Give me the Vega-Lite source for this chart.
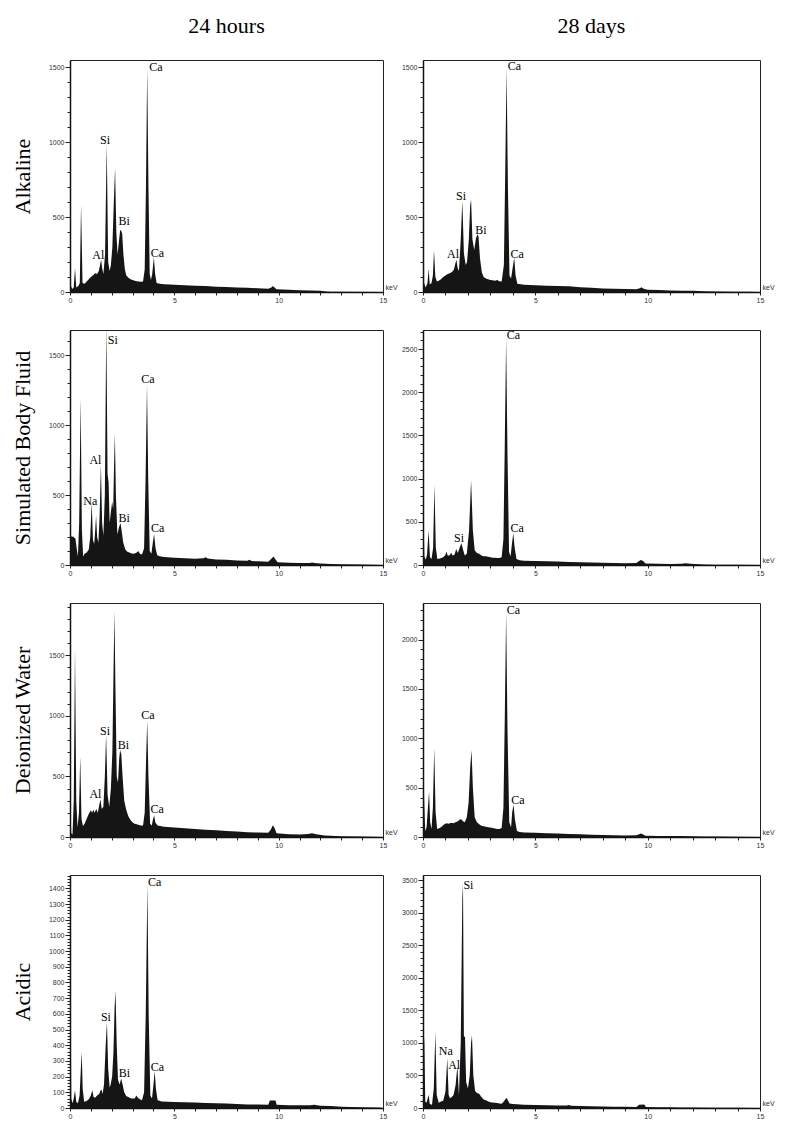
{
"$schema": "https://vega.github.io/schema/vega-lite/v6.json",
"padding": {"left": 10, "top": 14, "right": 5, "bottom": 5},
"background": "white",
"columns": 2,
"spacing": {"row": 38, "column": 40},
"bounds": "flush",
"align": "each",
"datasets": {
"a24": [{"e":0,"c":0},{"e":0.02,"c":930},{"e":0.05,"c":40},{"e":0.1,"c":20},{"e":0.18,"c":30},{"e":0.24,"c":160},{"e":0.3,"c":30},{"e":0.4,"c":40},{"e":0.47,"c":60},{"e":0.53,"c":585},{"e":0.6,"c":60},{"e":0.7,"c":55},{"e":0.8,"c":70},{"e":0.9,"c":85},{"e":1.0,"c":100},{"e":1.1,"c":110},{"e":1.2,"c":125},{"e":1.3,"c":120},{"e":1.38,"c":140},{"e":1.44,"c":180},{"e":1.49,"c":215},{"e":1.54,"c":160},{"e":1.6,"c":120},{"e":1.68,"c":250},{"e":1.76,"c":990},{"e":1.83,"c":200},{"e":1.9,"c":140},{"e":1.96,"c":180},{"e":2.03,"c":300},{"e":2.1,"c":600},{"e":2.16,"c":828},{"e":2.22,"c":400},{"e":2.28,"c":250},{"e":2.34,"c":330},{"e":2.4,"c":410},{"e":2.44,"c":415},{"e":2.5,"c":390},{"e":2.56,"c":250},{"e":2.63,"c":150},{"e":2.7,"c":110},{"e":2.8,"c":95},{"e":2.9,"c":85},{"e":3.0,"c":80},{"e":3.1,"c":75},{"e":3.2,"c":72},{"e":3.3,"c":70},{"e":3.4,"c":68},{"e":3.5,"c":70},{"e":3.58,"c":150},{"e":3.64,"c":700},{"e":3.7,"c":1495},{"e":3.76,"c":700},{"e":3.82,"c":120},{"e":3.88,"c":80},{"e":3.94,"c":120},{"e":4.02,"c":232},{"e":4.08,"c":120},{"e":4.15,"c":60},{"e":4.3,"c":55},{"e":4.5,"c":52},{"e":4.8,"c":50},{"e":5.0,"c":48},{"e":5.5,"c":45},{"e":6.0,"c":42},{"e":6.5,"c":40},{"e":7.0,"c":35},{"e":7.5,"c":33},{"e":8.0,"c":30},{"e":8.5,"c":28},{"e":9.0,"c":25},{"e":9.5,"c":22},{"e":9.65,"c":30},{"e":9.72,"c":40},{"e":9.8,"c":30},{"e":9.9,"c":18},{"e":10.5,"c":15},{"e":11.0,"c":12},{"e":11.5,"c":10},{"e":12.0,"c":8},{"e":12.3,"c":3},{"e":12.5,"c":2},{"e":13.0,"c":1},{"e":15,"c":0}],
"a28": [{"e":0,"c":0},{"e":0.02,"c":924},{"e":0.05,"c":60},{"e":0.12,"c":30},{"e":0.2,"c":60},{"e":0.25,"c":155},{"e":0.3,"c":50},{"e":0.38,"c":60},{"e":0.44,"c":110},{"e":0.49,"c":278},{"e":0.55,"c":100},{"e":0.62,"c":70},{"e":0.7,"c":75},{"e":0.8,"c":85},{"e":0.9,"c":100},{"e":1.0,"c":110},{"e":1.1,"c":120},{"e":1.2,"c":125},{"e":1.3,"c":135},{"e":1.38,"c":150},{"e":1.44,"c":190},{"e":1.49,"c":213},{"e":1.54,"c":160},{"e":1.6,"c":140},{"e":1.68,"c":350},{"e":1.75,"c":610},{"e":1.82,"c":260},{"e":1.9,"c":180},{"e":1.96,"c":200},{"e":2.04,"c":350},{"e":2.1,"c":580},{"e":2.14,"c":617},{"e":2.2,"c":350},{"e":2.28,"c":280},{"e":2.36,"c":360},{"e":2.42,"c":386},{"e":2.47,"c":370},{"e":2.54,"c":220},{"e":2.62,"c":130},{"e":2.7,"c":100},{"e":2.8,"c":90},{"e":2.9,"c":85},{"e":3.0,"c":80},{"e":3.1,"c":78},{"e":3.2,"c":75},{"e":3.3,"c":80},{"e":3.4,"c":72},{"e":3.5,"c":70},{"e":3.6,"c":180},{"e":3.66,"c":800},{"e":3.72,"c":1496},{"e":3.78,"c":700},{"e":3.85,"c":110},{"e":3.92,"c":90},{"e":3.98,"c":150},{"e":4.06,"c":229},{"e":4.12,"c":110},{"e":4.2,"c":55},{"e":4.5,"c":48},{"e":5.0,"c":45},{"e":5.5,"c":42},{"e":6.0,"c":40},{"e":6.5,"c":38},{"e":7.0,"c":32},{"e":7.5,"c":28},{"e":8.0,"c":24},{"e":8.5,"c":22},{"e":9.0,"c":20},{"e":9.5,"c":18},{"e":9.65,"c":25},{"e":9.72,"c":32},{"e":9.82,"c":22},{"e":10,"c":15},{"e":10.5,"c":13},{"e":11,"c":10},{"e":11.5,"c":9},{"e":12,"c":8},{"e":12.5,"c":5},{"e":13,"c":3},{"e":14,"c":2},{"e":14.5,"c":2},{"e":15,"c":0}],
"s24": [{"e":0,"c":0},{"e":0.02,"c":1066},{"e":0.05,"c":210},{"e":0.1,"c":200},{"e":0.15,"c":205},{"e":0.2,"c":195},{"e":0.26,"c":190},{"e":0.32,"c":120},{"e":0.38,"c":60},{"e":0.44,"c":300},{"e":0.51,"c":1198},{"e":0.57,"c":250},{"e":0.63,"c":60},{"e":0.7,"c":80},{"e":0.8,"c":90},{"e":0.9,"c":110},{"e":0.97,"c":200},{"e":1.04,"c":448},{"e":1.1,"c":180},{"e":1.16,"c":150},{"e":1.2,"c":230},{"e":1.25,"c":352},{"e":1.3,"c":200},{"e":1.36,"c":160},{"e":1.42,"c":350},{"e":1.48,"c":721},{"e":1.54,"c":300},{"e":1.6,"c":210},{"e":1.67,"c":500},{"e":1.74,"c":1720},{"e":1.8,"c":650},{"e":1.85,"c":590},{"e":1.9,"c":300},{"e":1.96,"c":380},{"e":2.02,"c":452},{"e":2.07,"c":400},{"e":2.11,"c":700},{"e":2.15,"c":936},{"e":2.2,"c":500},{"e":2.27,"c":220},{"e":2.35,"c":270},{"e":2.42,"c":300},{"e":2.48,"c":240},{"e":2.55,"c":160},{"e":2.65,"c":110},{"e":2.75,"c":95},{"e":2.9,"c":85},{"e":3.0,"c":80},{"e":3.1,"c":82},{"e":3.2,"c":90},{"e":3.28,"c":100},{"e":3.35,"c":80},{"e":3.45,"c":75},{"e":3.55,"c":120},{"e":3.62,"c":600},{"e":3.69,"c":1288},{"e":3.75,"c":600},{"e":3.82,"c":100},{"e":3.9,"c":80},{"e":3.96,"c":150},{"e":4.03,"c":221},{"e":4.1,"c":120},{"e":4.18,"c":70},{"e":4.3,"c":62},{"e":4.5,"c":58},{"e":5.0,"c":52},{"e":5.5,"c":48},{"e":6.0,"c":45},{"e":6.4,"c":48},{"e":6.5,"c":56},{"e":6.6,"c":46},{"e":7.0,"c":40},{"e":7.5,"c":37},{"e":8.0,"c":33},{"e":8.5,"c":30},{"e":8.6,"c":38},{"e":8.7,"c":28},{"e":9.0,"c":26},{"e":9.5,"c":24},{"e":9.65,"c":45},{"e":9.75,"c":60},{"e":9.85,"c":40},{"e":9.95,"c":20},{"e":10.5,"c":16},{"e":11.0,"c":14},{"e":11.5,"c":15},{"e":11.6,"c":18},{"e":11.7,"c":14},{"e":12.0,"c":10},{"e":12.5,"c":7},{"e":13,"c":5},{"e":14,"c":4},{"e":15,"c":0}],
"s28": [{"e":0,"c":0},{"e":0.02,"c":620},{"e":0.06,"c":100},{"e":0.12,"c":60},{"e":0.18,"c":120},{"e":0.25,"c":399},{"e":0.31,"c":90},{"e":0.38,"c":70},{"e":0.45,"c":200},{"e":0.51,"c":930},{"e":0.57,"c":200},{"e":0.64,"c":70},{"e":0.75,"c":75},{"e":0.85,"c":85},{"e":0.95,"c":100},{"e":1.0,"c":120},{"e":1.04,"c":155},{"e":1.1,"c":110},{"e":1.18,"c":110},{"e":1.25,"c":143},{"e":1.32,"c":110},{"e":1.4,"c":120},{"e":1.48,"c":186},{"e":1.55,"c":140},{"e":1.63,"c":200},{"e":1.71,"c":251},{"e":1.78,"c":180},{"e":1.86,"c":110},{"e":1.95,"c":130},{"e":2.05,"c":400},{"e":2.14,"c":980},{"e":2.22,"c":400},{"e":2.3,"c":170},{"e":2.4,"c":140},{"e":2.5,"c":130},{"e":2.6,"c":110},{"e":2.7,"c":100},{"e":2.8,"c":100},{"e":2.9,"c":95},{"e":3.0,"c":90},{"e":3.1,"c":85},{"e":3.2,"c":85},{"e":3.3,"c":80},{"e":3.4,"c":80},{"e":3.5,"c":90},{"e":3.58,"c":300},{"e":3.64,"c":1400},{"e":3.7,"c":2623},{"e":3.76,"c":1300},{"e":3.83,"c":150},{"e":3.9,"c":100},{"e":3.96,"c":250},{"e":4.02,"c":368},{"e":4.08,"c":200},{"e":4.16,"c":70},{"e":4.3,"c":55},{"e":4.5,"c":50},{"e":5.0,"c":45},{"e":5.5,"c":42},{"e":6.0,"c":40},{"e":6.5,"c":36},{"e":7.0,"c":32},{"e":7.5,"c":28},{"e":8.0,"c":26},{"e":8.5,"c":23},{"e":9.0,"c":20},{"e":9.5,"c":22},{"e":9.62,"c":45},{"e":9.7,"c":58},{"e":9.8,"c":45},{"e":9.9,"c":18},{"e":10.5,"c":14},{"e":11.0,"c":12},{"e":11.5,"c":14},{"e":11.7,"c":20},{"e":11.9,"c":14},{"e":12.3,"c":8},{"e":12.5,"c":5},{"e":13,"c":4},{"e":14,"c":3},{"e":15,"c":0}],
"d24": [{"e":0,"c":0},{"e":0.02,"c":254},{"e":0.06,"c":30},{"e":0.12,"c":20},{"e":0.18,"c":300},{"e":0.24,"c":1561},{"e":0.3,"c":300},{"e":0.36,"c":80},{"e":0.43,"c":200},{"e":0.49,"c":663},{"e":0.55,"c":150},{"e":0.62,"c":90},{"e":0.7,"c":110},{"e":0.8,"c":150},{"e":0.9,"c":190},{"e":1.0,"c":221},{"e":1.06,"c":200},{"e":1.12,"c":225},{"e":1.18,"c":200},{"e":1.26,"c":230},{"e":1.33,"c":200},{"e":1.4,"c":260},{"e":1.46,"c":312},{"e":1.52,"c":230},{"e":1.6,"c":250},{"e":1.67,"c":500},{"e":1.73,"c":843},{"e":1.8,"c":350},{"e":1.88,"c":250},{"e":1.96,"c":400},{"e":2.03,"c":700},{"e":2.08,"c":1300},{"e":2.13,"c":1864},{"e":2.18,"c":1200},{"e":2.24,"c":500},{"e":2.3,"c":450},{"e":2.36,"c":650},{"e":2.4,"c":718},{"e":2.46,"c":680},{"e":2.52,"c":500},{"e":2.6,"c":300},{"e":2.7,"c":220},{"e":2.8,"c":170},{"e":2.9,"c":140},{"e":3.0,"c":120},{"e":3.1,"c":110},{"e":3.2,"c":105},{"e":3.3,"c":100},{"e":3.4,"c":95},{"e":3.5,"c":95},{"e":3.58,"c":200},{"e":3.64,"c":600},{"e":3.7,"c":958},{"e":3.76,"c":500},{"e":3.84,"c":110},{"e":3.92,"c":95},{"e":3.97,"c":140},{"e":4.03,"c":180},{"e":4.09,"c":120},{"e":4.2,"c":95},{"e":4.5,"c":85},{"e":5.0,"c":78},{"e":5.5,"c":72},{"e":6.0,"c":65},{"e":6.5,"c":60},{"e":7.0,"c":55},{"e":7.5,"c":50},{"e":8.0,"c":45},{"e":8.5,"c":40},{"e":9.0,"c":37},{"e":9.5,"c":35},{"e":9.62,"c":60},{"e":9.72,"c":97},{"e":9.8,"c":75},{"e":9.9,"c":30},{"e":10.5,"c":22},{"e":11.0,"c":20},{"e":11.4,"c":25},{"e":11.6,"c":30},{"e":11.8,"c":22},{"e":12.2,"c":12},{"e":12.5,"c":10},{"e":13,"c":7},{"e":14,"c":4},{"e":15,"c":0}],
"d28": [{"e":0,"c":0},{"e":0.02,"c":655},{"e":0.06,"c":300},{"e":0.1,"c":60},{"e":0.16,"c":100},{"e":0.22,"c":300},{"e":0.27,"c":460},{"e":0.32,"c":150},{"e":0.38,"c":80},{"e":0.44,"c":300},{"e":0.5,"c":900},{"e":0.56,"c":250},{"e":0.63,"c":80},{"e":0.75,"c":90},{"e":0.85,"c":110},{"e":0.95,"c":130},{"e":1.05,"c":140},{"e":1.15,"c":135},{"e":1.25,"c":145},{"e":1.35,"c":140},{"e":1.45,"c":150},{"e":1.55,"c":160},{"e":1.62,"c":175},{"e":1.7,"c":180},{"e":1.78,"c":160},{"e":1.86,"c":150},{"e":1.95,"c":200},{"e":2.03,"c":350},{"e":2.1,"c":700},{"e":2.16,"c":880},{"e":2.22,"c":500},{"e":2.3,"c":200},{"e":2.4,"c":150},{"e":2.5,"c":130},{"e":2.6,"c":115},{"e":2.7,"c":110},{"e":2.8,"c":105},{"e":2.9,"c":100},{"e":3.0,"c":95},{"e":3.1,"c":90},{"e":3.2,"c":85},{"e":3.3,"c":80},{"e":3.4,"c":80},{"e":3.5,"c":90},{"e":3.58,"c":300},{"e":3.64,"c":1200},{"e":3.7,"c":2274},{"e":3.76,"c":1100},{"e":3.84,"c":150},{"e":3.92,"c":100},{"e":3.97,"c":250},{"e":4.03,"c":326},{"e":4.09,"c":180},{"e":4.18,"c":60},{"e":4.3,"c":50},{"e":4.5,"c":45},{"e":5.0,"c":42},{"e":5.5,"c":38},{"e":6.0,"c":35},{"e":6.5,"c":30},{"e":7.0,"c":27},{"e":7.5,"c":24},{"e":8.0,"c":20},{"e":8.5,"c":18},{"e":9.0,"c":16},{"e":9.5,"c":17},{"e":9.62,"c":28},{"e":9.7,"c":35},{"e":9.8,"c":25},{"e":9.9,"c":12},{"e":10.5,"c":10},{"e":11,"c":10},{"e":11.5,"c":10},{"e":12,"c":8},{"e":12.5,"c":6},{"e":13,"c":4},{"e":14,"c":3},{"e":15,"c":0}],
"c24": [{"e":0,"c":0},{"e":0.02,"c":1000},{"e":0.06,"c":60},{"e":0.12,"c":30},{"e":0.18,"c":60},{"e":0.24,"c":113},{"e":0.3,"c":40},{"e":0.38,"c":30},{"e":0.46,"c":80},{"e":0.52,"c":250},{"e":0.56,"c":359},{"e":0.61,"c":120},{"e":0.68,"c":40},{"e":0.8,"c":45},{"e":0.9,"c":55},{"e":1.0,"c":80},{"e":1.07,"c":113},{"e":1.13,"c":70},{"e":1.2,"c":65},{"e":1.3,"c":80},{"e":1.4,"c":90},{"e":1.46,"c":110},{"e":1.51,"c":118},{"e":1.56,"c":90},{"e":1.63,"c":150},{"e":1.71,"c":400},{"e":1.77,"c":547},{"e":1.83,"c":250},{"e":1.9,"c":130},{"e":1.95,"c":150},{"e":2.02,"c":200},{"e":2.08,"c":350},{"e":2.14,"c":650},{"e":2.18,"c":748},{"e":2.24,"c":400},{"e":2.3,"c":180},{"e":2.38,"c":150},{"e":2.45,"c":188},{"e":2.52,"c":150},{"e":2.6,"c":100},{"e":2.7,"c":75},{"e":2.8,"c":70},{"e":2.9,"c":62},{"e":3.0,"c":60},{"e":3.1,"c":60},{"e":3.18,"c":80},{"e":3.25,"c":65},{"e":3.35,"c":55},{"e":3.45,"c":50},{"e":3.55,"c":100},{"e":3.63,"c":600},{"e":3.71,"c":1427},{"e":3.77,"c":600},{"e":3.85,"c":80},{"e":3.93,"c":60},{"e":4.0,"c":150},{"e":4.06,"c":235},{"e":4.12,"c":120},{"e":4.2,"c":50},{"e":4.4,"c":42},{"e":4.7,"c":40},{"e":5.0,"c":38},{"e":5.5,"c":37},{"e":6.0,"c":35},{"e":6.5,"c":32},{"e":7.0,"c":30},{"e":7.5,"c":28},{"e":8.0,"c":25},{"e":8.5,"c":23},{"e":9.0,"c":22},{"e":9.5,"c":20},{"e":9.58,"c":48},{"e":9.85,"c":48},{"e":9.9,"c":20},{"e":10.5,"c":18},{"e":11.0,"c":17},{"e":11.5,"c":18},{"e":11.7,"c":20},{"e":12,"c":15},{"e":12.5,"c":12},{"e":13,"c":8},{"e":14,"c":5},{"e":14.8,"c":3},{"e":15,"c":0}],
"c28": [{"e":0,"c":0},{"e":0.02,"c":1216},{"e":0.06,"c":1000},{"e":0.1,"c":100},{"e":0.16,"c":80},{"e":0.21,"c":150},{"e":0.25,"c":204},{"e":0.3,"c":60},{"e":0.4,"c":50},{"e":0.48,"c":300},{"e":0.55,"c":1165},{"e":0.61,"c":200},{"e":0.7,"c":80},{"e":0.8,"c":100},{"e":0.9,"c":110},{"e":1.0,"c":250},{"e":1.08,"c":767},{"e":1.14,"c":200},{"e":1.2,"c":150},{"e":1.28,"c":170},{"e":1.36,"c":200},{"e":1.45,"c":350},{"e":1.53,"c":640},{"e":1.6,"c":200},{"e":1.68,"c":1000},{"e":1.75,"c":3200},{"e":1.78,"c":3451},{"e":1.82,"c":1100},{"e":1.87,"c":1089},{"e":1.92,"c":400},{"e":2.0,"c":300},{"e":2.08,"c":500},{"e":2.14,"c":1000},{"e":2.18,"c":1114},{"e":2.24,"c":500},{"e":2.32,"c":260},{"e":2.4,"c":230},{"e":2.5,"c":220},{"e":2.6,"c":170},{"e":2.7,"c":130},{"e":2.8,"c":120},{"e":2.9,"c":100},{"e":3.0,"c":90},{"e":3.1,"c":85},{"e":3.2,"c":80},{"e":3.3,"c":75},{"e":3.4,"c":70},{"e":3.5,"c":65},{"e":3.6,"c":100},{"e":3.67,"c":140},{"e":3.72,"c":153},{"e":3.78,"c":120},{"e":3.85,"c":70},{"e":4.0,"c":60},{"e":4.5,"c":50},{"e":5.0,"c":45},{"e":5.5,"c":42},{"e":6.0,"c":38},{"e":6.4,"c":38},{"e":6.5,"c":45},{"e":6.6,"c":36},{"e":7.0,"c":32},{"e":7.5,"c":28},{"e":8.0,"c":24},{"e":8.5,"c":21},{"e":9.0,"c":18},{"e":9.5,"c":16},{"e":9.62,"c":50},{"e":9.85,"c":55},{"e":9.92,"c":15},{"e":10.5,"c":12},{"e":11,"c":10},{"e":11.5,"c":9},{"e":12,"c":8},{"e":13,"c":5},{"e":14,"c":3},{"e":15,"c":0}],
"la24": [{"t":"Ca","e":3.8,"c":1505},{"t":"Si","e":1.44,"c":1018},{"t":"Bi","e":2.32,"c":477},{"t":"Al","e":1.07,"c":248},{"t":"Ca","e":3.87,"c":259}],
"la28": [{"t":"Ca","e":3.77,"c":1513},{"t":"Si","e":1.47,"c":644},{"t":"Bi","e":2.33,"c":417},{"t":"Al","e":1.07,"c":251},{"t":"Ca","e":3.89,"c":256}],
"ls24": [{"t":"Si","e":1.81,"c":1609},{"t":"Ca","e":3.42,"c":1329},{"t":"Al","e":0.93,"c":752},{"t":"Na","e":0.64,"c":460},{"t":"Bi","e":2.33,"c":336},{"t":"Ca","e":3.88,"c":262}],
"ls28": [{"t":"Ca","e":3.73,"c":2666},{"t":"Si","e":1.38,"c":317},{"t":"Ca","e":3.89,"c":426}],
"ld24": [{"t":"Ca","e":3.41,"c":1008},{"t":"Si","e":1.44,"c":876},{"t":"Bi","e":2.29,"c":760},{"t":"Al","e":0.93,"c":354},{"t":"Ca","e":3.86,"c":235}],
"ld28": [{"t":"Ca","e":3.73,"c":2301},{"t":"Ca","e":3.93,"c":379}],
"lc24": [{"t":"Ca","e":3.74,"c":1438},{"t":"Si","e":1.48,"c":579},{"t":"Bi","e":2.34,"c":220},{"t":"Ca","e":3.87,"c":259}],
"lc28": [{"t":"Si","e":1.8,"c":3425},{"t":"Na","e":0.7,"c":870},{"t":"Al","e":1.12,"c":660}]
},
"concat": [
{"width": 313, "height": 232, "title": {"text": "24 hours"},
 "layer": [
  {"data": {"name": "a24"}, "mark": {"type": "area", "color": "#151515", "clip": true},
   "encoding": {
    "x": {"field": "e", "type": "quantitative", "title": "keV", "scale": {"domain": [0, 15], "nice": false, "zero": false},
          "axis": {"values": [0,1,2,3,4,5,6,7,8,9,10,11,12,13,14,15], "tickCount": 500, "format": "d", "labelOverlap": false, "labelExpr": "datum.value % 5 === 0 ? datum.label : ''", "titleX": 315, "titleY": -2}},
    "y": {"field": "c", "type": "quantitative", "title": "Alkaline", "scale": {"domain": [0, 1550], "nice": false},
          "axis": {"values": [0,100,200,300,400,500,600,700,800,900,1000,1100,1200,1300,1400,1500], "tickCount": 500, "format": "d", "labelOverlap": false, "labelExpr": "datum.value % 500 === 0 ? datum.label : ''", "tickSize": {"condition": {"test": "datum.value % 500 === 0", "value": 5}, "value": 3}}}}},
  {"data": {"name": "la24"}, "mark": {"type": "text", "align": "left", "baseline": "middle", "font": "Liberation Serif", "fontSize": 12, "color": "#000"},
   "encoding": {"x": {"field": "e", "type": "quantitative", "title": "keV"}, "y": {"field": "c", "type": "quantitative", "title": "Alkaline"}, "text": {"field": "t", "type": "nominal"}}}
 ]},
{"width": 337, "height": 232, "title": {"text": "28 days"},
 "layer": [
  {"data": {"name": "a28"}, "mark": {"type": "area", "color": "#151515", "clip": true},
   "encoding": {
    "x": {"field": "e", "type": "quantitative", "title": "keV", "scale": {"domain": [0, 15], "nice": false, "zero": false},
          "axis": {"values": [0,1,2,3,4,5,6,7,8,9,10,11,12,13,14,15], "tickCount": 500, "format": "d", "labelOverlap": false, "labelExpr": "datum.value % 5 === 0 ? datum.label : ''", "titleX": 339, "titleY": -2}},
    "y": {"field": "c", "type": "quantitative", "title": null, "scale": {"domain": [0, 1550], "nice": false},
          "axis": {"values": [0,100,200,300,400,500,600,700,800,900,1000,1100,1200,1300,1400,1500], "tickCount": 500, "format": "d", "labelOverlap": false, "labelExpr": "datum.value % 500 === 0 ? datum.label : ''", "tickSize": {"condition": {"test": "datum.value % 500 === 0", "value": 5}, "value": 3}}}}},
  {"data": {"name": "la28"}, "mark": {"type": "text", "align": "left", "baseline": "middle", "font": "Liberation Serif", "fontSize": 12, "color": "#000"},
   "encoding": {"x": {"field": "e", "type": "quantitative", "title": "keV"}, "y": {"field": "c", "type": "quantitative", "title": null}, "text": {"field": "t", "type": "nominal"}}}
 ]},
{"width": 313, "height": 235,
 "layer": [
  {"data": {"name": "s24"}, "mark": {"type": "area", "color": "#151515", "clip": true},
   "encoding": {
    "x": {"field": "e", "type": "quantitative", "title": "keV", "scale": {"domain": [0, 15], "nice": false, "zero": false},
          "axis": {"values": [0,1,2,3,4,5,6,7,8,9,10,11,12,13,14,15], "tickCount": 500, "format": "d", "labelOverlap": false, "labelExpr": "datum.value % 5 === 0 ? datum.label : ''", "titleX": 315, "titleY": -2}},
    "y": {"field": "c", "type": "quantitative", "title": "Simulated Body Fluid", "scale": {"domain": [0, 1680], "nice": false},
          "axis": {"values": [0,100,200,300,400,500,600,700,800,900,1000,1100,1200,1300,1400,1500,1600], "tickCount": 500, "format": "d", "labelOverlap": false, "labelExpr": "datum.value % 500 === 0 ? datum.label : ''", "tickSize": {"condition": {"test": "datum.value % 500 === 0", "value": 5}, "value": 3}}}}},
  {"data": {"name": "ls24"}, "mark": {"type": "text", "align": "left", "baseline": "middle", "font": "Liberation Serif", "fontSize": 12, "color": "#000"},
   "encoding": {"x": {"field": "e", "type": "quantitative", "title": "keV"}, "y": {"field": "c", "type": "quantitative", "title": "Simulated Body Fluid"}, "text": {"field": "t", "type": "nominal"}}}
 ]},
{"width": 337, "height": 235,
 "layer": [
  {"data": {"name": "s28"}, "mark": {"type": "area", "color": "#151515", "clip": true},
   "encoding": {
    "x": {"field": "e", "type": "quantitative", "title": "keV", "scale": {"domain": [0, 15], "nice": false, "zero": false},
          "axis": {"values": [0,1,2,3,4,5,6,7,8,9,10,11,12,13,14,15], "tickCount": 500, "format": "d", "labelOverlap": false, "labelExpr": "datum.value % 5 === 0 ? datum.label : ''", "titleX": 339, "titleY": -2}},
    "y": {"field": "c", "type": "quantitative", "title": null, "scale": {"domain": [0, 2720], "nice": false},
          "axis": {"values": [0,100,200,300,400,500,600,700,800,900,1000,1100,1200,1300,1400,1500,1600,1700,1800,1900,2000,2100,2200,2300,2400,2500,2600,2700], "tickCount": 500, "format": "d", "labelOverlap": false, "labelExpr": "datum.value % 500 === 0 ? datum.label : ''", "tickSize": {"condition": {"test": "datum.value % 500 === 0", "value": 5}, "value": 3}}}}},
  {"data": {"name": "ls28"}, "mark": {"type": "text", "align": "left", "baseline": "middle", "font": "Liberation Serif", "fontSize": 12, "color": "#000"},
   "encoding": {"x": {"field": "e", "type": "quantitative", "title": "keV"}, "y": {"field": "c", "type": "quantitative", "title": null}, "text": {"field": "t", "type": "nominal"}}}
 ]},
{"width": 313, "height": 234,
 "layer": [
  {"data": {"name": "d24"}, "mark": {"type": "area", "color": "#151515", "clip": true},
   "encoding": {
    "x": {"field": "e", "type": "quantitative", "title": "keV", "scale": {"domain": [0, 15], "nice": false, "zero": false},
          "axis": {"values": [0,1,2,3,4,5,6,7,8,9,10,11,12,13,14,15], "tickCount": 500, "format": "d", "labelOverlap": false, "labelExpr": "datum.value % 5 === 0 ? datum.label : ''", "titleX": 315, "titleY": -2}},
    "y": {"field": "c", "type": "quantitative", "title": "Deionized Water", "scale": {"domain": [0, 1930], "nice": false},
          "axis": {"values": [0,100,200,300,400,500,600,700,800,900,1000,1100,1200,1300,1400,1500,1600,1700,1800,1900], "tickCount": 500, "format": "d", "labelOverlap": false, "labelExpr": "datum.value % 500 === 0 ? datum.label : ''", "tickSize": {"condition": {"test": "datum.value % 500 === 0", "value": 5}, "value": 3}}}}},
  {"data": {"name": "ld24"}, "mark": {"type": "text", "align": "left", "baseline": "middle", "font": "Liberation Serif", "fontSize": 12, "color": "#000"},
   "encoding": {"x": {"field": "e", "type": "quantitative", "title": "keV"}, "y": {"field": "c", "type": "quantitative", "title": "Deionized Water"}, "text": {"field": "t", "type": "nominal"}}}
 ]},
{"width": 337, "height": 234,
 "layer": [
  {"data": {"name": "d28"}, "mark": {"type": "area", "color": "#151515", "clip": true},
   "encoding": {
    "x": {"field": "e", "type": "quantitative", "title": "keV", "scale": {"domain": [0, 15], "nice": false, "zero": false},
          "axis": {"values": [0,1,2,3,4,5,6,7,8,9,10,11,12,13,14,15], "tickCount": 500, "format": "d", "labelOverlap": false, "labelExpr": "datum.value % 5 === 0 ? datum.label : ''", "titleX": 339, "titleY": -2}},
    "y": {"field": "c", "type": "quantitative", "title": null, "scale": {"domain": [0, 2370], "nice": false},
          "axis": {"values": [0,100,200,300,400,500,600,700,800,900,1000,1100,1200,1300,1400,1500,1600,1700,1800,1900,2000,2100,2200,2300], "tickCount": 500, "format": "d", "labelOverlap": false, "labelExpr": "datum.value % 500 === 0 ? datum.label : ''", "tickSize": {"condition": {"test": "datum.value % 500 === 0", "value": 5}, "value": 3}}}}},
  {"data": {"name": "ld28"}, "mark": {"type": "text", "align": "left", "baseline": "middle", "font": "Liberation Serif", "fontSize": 12, "color": "#000"},
   "encoding": {"x": {"field": "e", "type": "quantitative", "title": "keV"}, "y": {"field": "c", "type": "quantitative", "title": null}, "text": {"field": "t", "type": "nominal"}}}
 ]},
{"width": 313, "height": 233,
 "layer": [
  {"data": {"name": "c24"}, "mark": {"type": "area", "color": "#151515", "clip": true},
   "encoding": {
    "x": {"field": "e", "type": "quantitative", "title": "keV", "scale": {"domain": [0, 15], "nice": false, "zero": false},
          "axis": {"values": [0,1,2,3,4,5,6,7,8,9,10,11,12,13,14,15], "tickCount": 500, "format": "d", "labelOverlap": false, "labelExpr": "datum.value % 5 === 0 ? datum.label : ''", "titleX": 315, "titleY": -2}},
    "y": {"field": "c", "type": "quantitative", "title": "Acidic", "scale": {"domain": [0, 1485], "nice": false},
          "axis": {"values": [0,20,40,60,80,100,120,140,160,180,200,220,240,260,280,300,320,340,360,380,400,420,440,460,480,500,520,540,560,580,600,620,640,660,680,700,720,740,760,780,800,820,840,860,880,900,920,940,960,980,1000,1020,1040,1060,1080,1100,1120,1140,1160,1180,1200,1220,1240,1260,1280,1300,1320,1340,1360,1380,1400,1420,1440,1460,1480], "tickCount": 500, "format": "d", "labelOverlap": false, "labelExpr": "datum.value % 100 === 0 ? datum.label : ''", "tickSize": {"condition": {"test": "datum.value % 100 === 0", "value": 5}, "value": 3}}}}},
  {"data": {"name": "lc24"}, "mark": {"type": "text", "align": "left", "baseline": "middle", "font": "Liberation Serif", "fontSize": 12, "color": "#000"},
   "encoding": {"x": {"field": "e", "type": "quantitative", "title": "keV"}, "y": {"field": "c", "type": "quantitative", "title": "Acidic"}, "text": {"field": "t", "type": "nominal"}}}
 ]},
{"width": 337, "height": 233,
 "layer": [
  {"data": {"name": "c28"}, "mark": {"type": "area", "color": "#151515", "clip": true},
   "encoding": {
    "x": {"field": "e", "type": "quantitative", "title": "keV", "scale": {"domain": [0, 15], "nice": false, "zero": false},
          "axis": {"values": [0,1,2,3,4,5,6,7,8,9,10,11,12,13,14,15], "tickCount": 500, "format": "d", "labelOverlap": false, "labelExpr": "datum.value % 5 === 0 ? datum.label : ''", "titleX": 339, "titleY": -2}},
    "y": {"field": "c", "type": "quantitative", "title": null, "scale": {"domain": [0, 3577], "nice": false},
          "axis": {"values": [0,100,200,300,400,500,600,700,800,900,1000,1100,1200,1300,1400,1500,1600,1700,1800,1900,2000,2100,2200,2300,2400,2500,2600,2700,2800,2900,3000,3100,3200,3300,3400,3500], "tickCount": 500, "format": "d", "labelOverlap": false, "labelExpr": "datum.value % 500 === 0 ? datum.label : ''", "tickSize": {"condition": {"test": "datum.value % 500 === 0", "value": 5}, "value": 3}}}}},
  {"data": {"name": "lc28"}, "mark": {"type": "text", "align": "left", "baseline": "middle", "font": "Liberation Serif", "fontSize": 12, "color": "#000"},
   "encoding": {"x": {"field": "e", "type": "quantitative", "title": "keV"}, "y": {"field": "c", "type": "quantitative", "title": null}, "text": {"field": "t", "type": "nominal"}}}
 ]}
],
"config": {
 "view": {"stroke": "#222", "strokeWidth": 1},
 "axis": {"grid": false, "labelFont": "Liberation Sans", "labelFontSize": 7, "labelColor": "#333", "tickColor": "#222", "domainColor": "#111", "domainWidth": 1.5, "tickSize": 3, "labelPadding": 1, "labelOverlap": false, "labelFlush": false},
 "axisX": {"titleFont": "Liberation Sans", "titleFontSize": 7, "titleFontWeight": "normal", "titleAlign": "left", "titleBaseline": "bottom", "titleColor": "#333"},
 "axisY": {"titleFont": "Liberation Serif", "titleFontSize": 22, "titleFontWeight": "normal", "titleColor": "#000", "titleX": -48, "titleBaseline": "middle", "titleAlign": "center", "titleAngle": 270},
 "title": {"font": "Liberation Serif", "fontSize": 22, "fontWeight": "normal", "color": "#000", "baseline": "alphabetic", "offset": 22}
}
}
